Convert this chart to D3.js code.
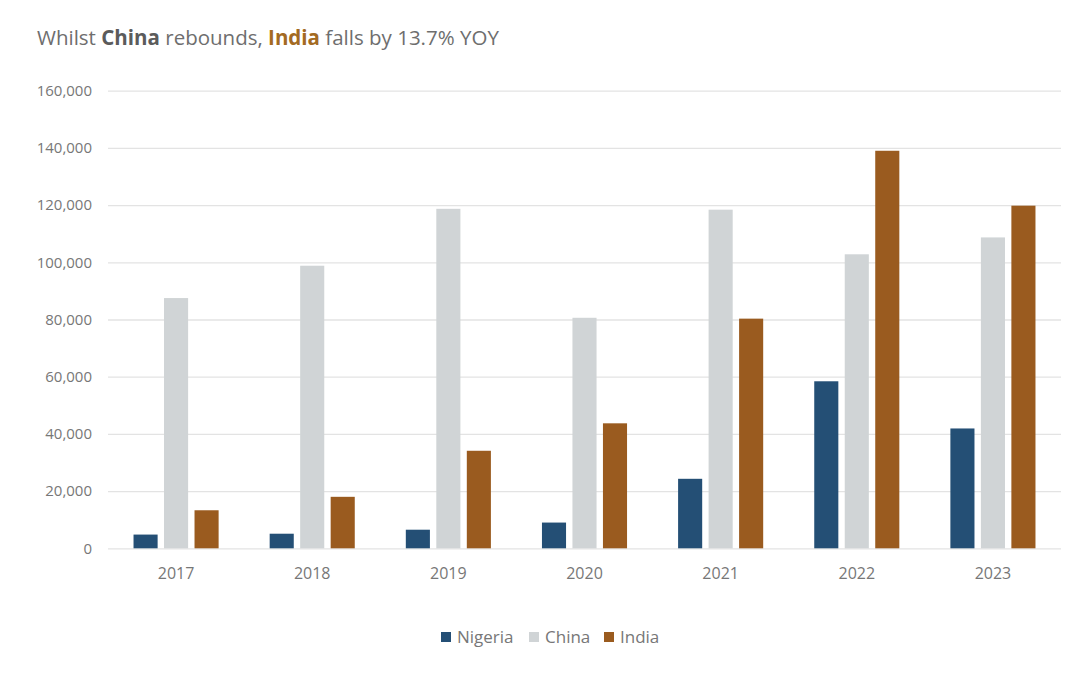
<!DOCTYPE html>
<html>
<head>
<meta charset="utf-8">
<script src="https://cdn.jsdelivr.net/npm/d3@7"></script>
<style>
  body { margin: 0; background: #fff; }
  svg { display: block; font-family: "Open Sans", sans-serif; }
</style>
</head>
<body>
<div id="chart"></div>
<script>
var years = ["2017", "2018", "2019", "2020", "2021", "2022", "2023"];
var series = ["Nigeria", "China", "India"];
var nigeria = [4800, 5100, 6500, 9000, 24300, 58400, 41900];
var china = [87500, 98800, 118700, 80600, 118400, 102800, 108700];
var india = [13300, 18000, 34100, 43700, 80300, 139000, 119800];
var colors = ["#244f75", "#d0d4d6", "#9a5b1f"];
var yTicks = [0, 20000, 40000, 60000, 80000, 100000, 120000, 140000, 160000];

var values = [nigeria, china, india];
var rows = years.map(function(y, i) {
  return { year: y, vals: series.map(function(s, j) { return { key: s, value: values[j][i] }; }) };
});

var width = 1080, height = 674;

var svg = d3.select("#chart").append("svg")
    .attr("width", width)
    .attr("height", height);

// title with bold country names
var title = svg.append("text")
    .attr("x", 37)
    .attr("y", 45)
    .attr("font-size", "20.5px")
    .attr("fill", "#6e6e6e");
title.append("tspan").text("Whilst ");
title.append("tspan").text("China").attr("font-weight", "bold").attr("fill", "#5b5b5b");
title.append("tspan").text(" rebounds, ");
title.append("tspan").text("India").attr("font-weight", "bold").attr("fill", "#a36a22");
title.append("tspan").text(" falls by 13.7% YOY");

var x0 = d3.scaleBand()
    .domain(years)
    .range([108, 1061])
    .paddingInner(0.375)
    .paddingOuter(0.1875);

var x1 = d3.scaleBand()
    .domain(series)
    .range([0, x0.bandwidth()])
    .paddingInner(0.21);

var y = d3.scaleLinear()
    .domain([0, 160000])
    .range([548.3, 90.7]);

// gridlines + labels
var yAxis = svg.append("g")
    .attr("transform", "translate(108,0)")
    .call(d3.axisLeft(y)
      .tickValues(yTicks)
      .tickSize(-(1061 - 108))
      .tickPadding(16)
      .tickFormat(d3.format(",")));
yAxis.select(".domain").remove();
yAxis.selectAll(".tick line").attr("stroke", "#e3e3e3").attr("stroke-width", 1.3);
yAxis.selectAll(".tick text")
    .attr("fill", "#777")
    .attr("font-size", "15px")
    .attr("font-family", "Open Sans, sans-serif");

// bars
var groups = svg.selectAll(".year")
    .data(rows)
    .enter().append("g")
    .attr("transform", function(d) { return "translate(" + x0(d.year) + ",0)"; });

groups.selectAll("rect")
    .data(function(d) { return d.vals; })
    .enter().append("rect")
    .attr("x", function(d) { return x1(d.key); })
    .attr("y", function(d) { return y(d.value); })
    .attr("width", x1.bandwidth())
    .attr("height", function(d) { return y(0) - y(d.value); })
    .attr("fill", function(d, i) { return colors[i]; });

// x axis labels
var xAxis = svg.append("g")
    .attr("transform", "translate(0," + y(0) + ")")
    .call(d3.axisBottom(x0).tickSize(0).tickPadding(19));
xAxis.select(".domain").remove();
xAxis.selectAll(".tick text")
    .attr("fill", "#777")
    .attr("font-size", "16px")
    .attr("font-family", "Open Sans, sans-serif");

// legend
var legendX = [441, 529, 604];
var legend = svg.selectAll(".legend")
    .data(series)
    .enter().append("g")
    .attr("transform", function(d, i) { return "translate(" + legendX[i] + ",632)"; });
legend.append("rect")
    .attr("width", 10)
    .attr("height", 10)
    .attr("fill", function(d, i) { return colors[i]; });
legend.append("text")
    .attr("x", 16)
    .attr("y", 10.5)
    .text(function(d) { return d; })
    .attr("fill", "#777")
    .attr("font-size", "17px");
</script>
</body>
</html>
